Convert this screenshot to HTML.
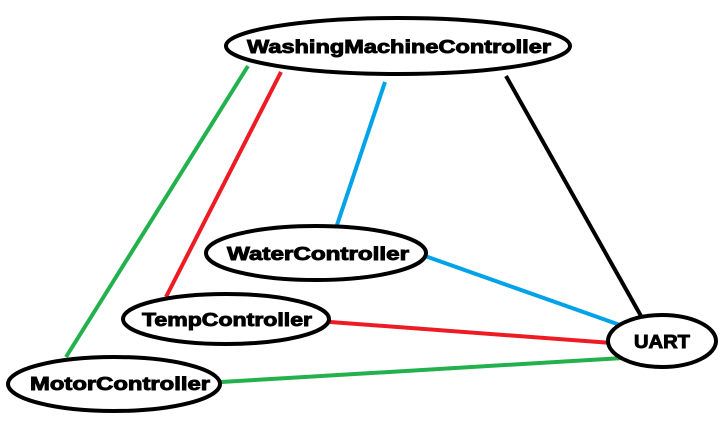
<!DOCTYPE html>
<html><head><style>html,body{margin:0;padding:0;background:#fff;}svg{display:block}</style></head>
<body>
<svg width="722" height="423" viewBox="0 0 722 423" xmlns="http://www.w3.org/2000/svg">
<g stroke-width="4" fill="none">
<line x1="248" y1="66" x2="66" y2="357" stroke="#22b14c"/>
<line x1="221" y1="382" x2="623" y2="358" stroke="#22b14c"/>
<line x1="281" y1="72" x2="166" y2="297" stroke="#ed1c24"/>
<line x1="330" y1="322" x2="612" y2="343" stroke="#ed1c24"/>
<line x1="385" y1="82" x2="337" y2="225" stroke="#00a2e8"/>
<line x1="425" y1="256" x2="620" y2="325" stroke="#00a2e8"/>
<line x1="506" y1="76" x2="641" y2="316" stroke="#000"/>
</g>
<g stroke="#000" stroke-width="4" fill="#fff">
<ellipse cx="398" cy="46" rx="172" ry="28"/>
<ellipse cx="316" cy="253" rx="110" ry="27"/>
<ellipse cx="226" cy="319" rx="103" ry="25"/>
<ellipse cx="114" cy="384" rx="106" ry="27"/>
<ellipse cx="662" cy="341" rx="54" ry="26"/>
</g>
<g font-family="Liberation Sans, sans-serif" font-weight="bold" font-size="18" fill="#000" stroke="#000" stroke-width="0.9">
<text x="247" y="53" textLength="304" lengthAdjust="spacingAndGlyphs">WashingMachineController</text>
<text x="227" y="260" textLength="182" lengthAdjust="spacingAndGlyphs">WaterController</text>
<text x="142" y="326" textLength="170" lengthAdjust="spacingAndGlyphs">TempController</text>
<text x="30" y="390" textLength="180" lengthAdjust="spacingAndGlyphs">MotorController</text>
<text x="634" y="348" textLength="56" lengthAdjust="spacingAndGlyphs">UART</text>
</g>
</svg>
</body></html>
